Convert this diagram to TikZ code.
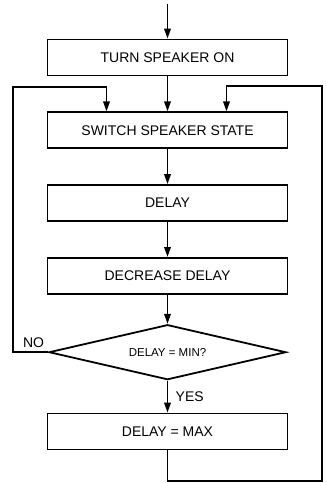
\documentclass[tikz,border=0pt]{standalone}
\usepackage{fontspec}
\setmainfont{Liberation Sans}
\usetikzlibrary{arrows.meta,positioning,shapes.geometric}

\begin{document}
\begin{tikzpicture}[
  box/.style={
    draw,
    line width=1.8pt,
    minimum width=240pt,
    minimum height=36pt,
    align=center,
    font=\fontsize{14}{16}\selectfont
  },
  decision/.style={
    draw,
    diamond,
    aspect=4.3,
    inner sep=1pt,
    line width=1.8pt,
    minimum width=237pt,
    minimum height=55pt,
    font=\fontsize{11.5}{13}\selectfont
  },
  arrow/.style={-{Triangle[length=10pt,width=6.5pt]},line width=1.8pt},
  label/.style={font=\fontsize{14}{16}\selectfont}
]
  \useasboundingbox (0,0) rectangle (325pt,-483pt);
  \node[box] (turnon) at (167.5pt,-57.5pt) {TURN SPEAKER ON};
  \node[box,below=35pt of turnon] (switch) {SWITCH SPEAKER STATE};
  \node[box,below=35pt of switch] (wait) {DELAY};
  \node[box,below=35pt of wait] (decrease) {DECREASE DELAY};
  \node[decision,below=29pt of decrease] (decide) {DELAY = MIN?};
  \node[box,below=32pt of decide] (setmax) {DELAY = MAX};
  \coordinate[above=35pt of turnon] (entry);
  \coordinate (nocorner) at (13pt,-87pt);
  \coordinate (backbottom) at (322pt,-481pt);
  \coordinate (backtop) at (322pt,-86pt);
  % main flow
  \draw[arrow] (entry) -- (turnon);
  \draw[arrow] (turnon) -- (switch);
  \draw[arrow] (switch) -- (wait);
  \draw[arrow] (wait) -- (decrease);
  \draw[arrow] (decrease) -- (decide);
  \draw[arrow] (decide) -- node[label,right=4pt] {YES} (setmax);
  % loops back
  \draw[arrow] (decide.west) -- node[label,above,xshift=3pt] {NO} (decide.west -| nocorner)
    -- (nocorner) -| ([xshift=-61pt]switch.north);
  \draw[arrow] (setmax.south) |- (backbottom) -- (backtop)
    -| ([xshift=59pt]switch.north);
\end{tikzpicture}
\end{document}
